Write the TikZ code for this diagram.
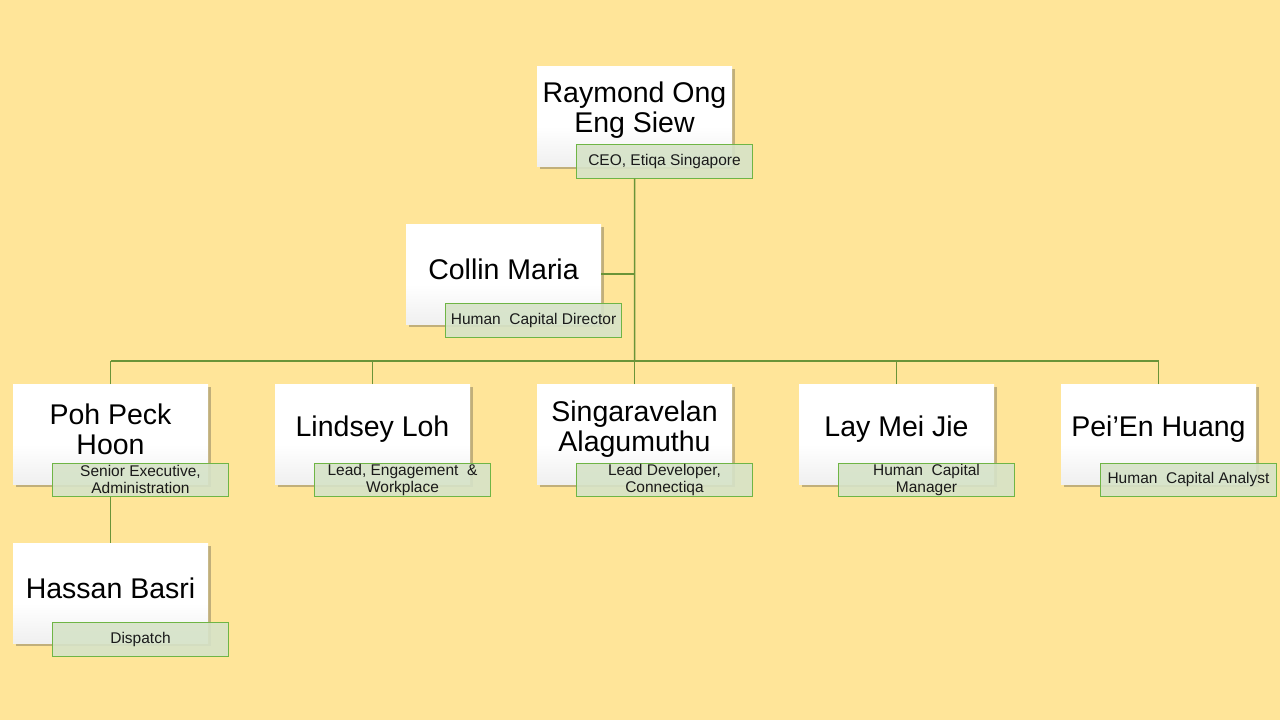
\documentclass[tikz,border=0pt]{standalone}
\usepackage{fontspec}
\setmainfont{Liberation Sans}
\usetikzlibrary{shadows}
\definecolor{bg}{HTML}{FFE599}
\definecolor{ln}{HTML}{6A9438}
\definecolor{lbfill}{HTML}{D6E3C8}
\definecolor{lbdraw}{HTML}{6FB545}
\definecolor{lbtext}{HTML}{1A1A1A}
\pgfdeclareverticalshading{boxshade}{100bp}{color(0bp)=(black!14); color(12bp)=(black!10); color(45bp)=(white); color(100bp)=(white)}
\begin{document}
\begin{tikzpicture}[x=1pt,y=-1pt,
  namebox/.style={anchor=north west, minimum width=195pt, minimum height=100pt, inner sep=0pt,
    shading=boxshade, draw=none,
    drop shadow={shadow xshift=2.5pt, shadow yshift=-3pt, opacity=0.3, fill=black!80}},
  nametext/.style={align=center, inner sep=0pt, font=\fontsize{28.5}{30}\selectfont, text=black},
  lab/.style={anchor=north west, minimum width=176pt, minimum height=33.5pt, inner sep=0pt,
    fill=lbfill, fill opacity=0.9, text opacity=1, draw=lbdraw, line width=1pt, align=center,
    font=\fontsize{15.5}{17}\selectfont, text=lbtext},
  conn/.style={draw=ln, line width=1.5pt}]
\fill[bg] (0,0) rectangle (1280,720);
\useasboundingbox (0,0) rectangle (1280,720);
% boxes
\node[namebox] (r) at (537,66) {};
\node[namebox] (c) at (406,224) {};
\node[namebox] (p) at (13,384) {};
\node[namebox] (l) at (275,384) {};
\node[namebox] (s) at (537,384) {};
\node[namebox] (m) at (799,384) {};
\node[namebox] (e) at (1061,384) {};
\node[namebox] (h) at (13,543) {};
% names
\node[nametext] (rt) at (634.5,110) {Raymond Ong\\Eng Siew};
\node[nametext] (ct) at (503.5,269) {Collin Maria};
\node[nametext] (pt) at (110.5,429) {Poh Peck\\Hoon};
\node[nametext] (lt) at (372.5,429) {Lindsey Loh};
\node[nametext] (st) at (634.5,429) {Singaravelan\\Alagumuthu};
\node[nametext] (mt) at (896.5,429) {Lay Mei Jie};
\node[nametext] (et) at (1158.5,429) {Pei’En Huang};
\node[nametext] (ht) at (110.5,588) {Hassan Basri};
% labels
\node[lab] (rl) at (576,144) {CEO, Etiqa Singapore};
\node[lab] (cl) at (445,303) {Human\ \ Capital Director};
\node[lab] (pl) at (52,462.5) {Senior Executive,\\Administration};
\node[lab] (ll) at (314,462.5) {Lead, Engagement\ \ \&\\Workplace};
\node[lab] (sl) at (576,462.5) {Lead Developer,\\Connectiqa};
\node[lab] (ml) at (838,462.5) {Human\ \ Capital\\Manager};
\node[lab] (el) at (1100,462.5) {Human\ \ Capital Analyst};
\node[lab] (hl) at (52,622) {Dispatch};
% connectors
\coordinate (bus) at (634.5,361);
\draw[conn] (rl.south -| r.south) -- (bus);
\draw[conn] (c.east) -- (c.east -| bus);
\draw[conn] (p.north |- bus) -- (e.north |- bus);
\foreach \n in {p,l,s,m,e} \draw[conn] (\n.north) -- (\n.north |- bus);
\draw[conn] (pl.south -| p.south) -- (h.north);
\end{tikzpicture}
\end{document}
